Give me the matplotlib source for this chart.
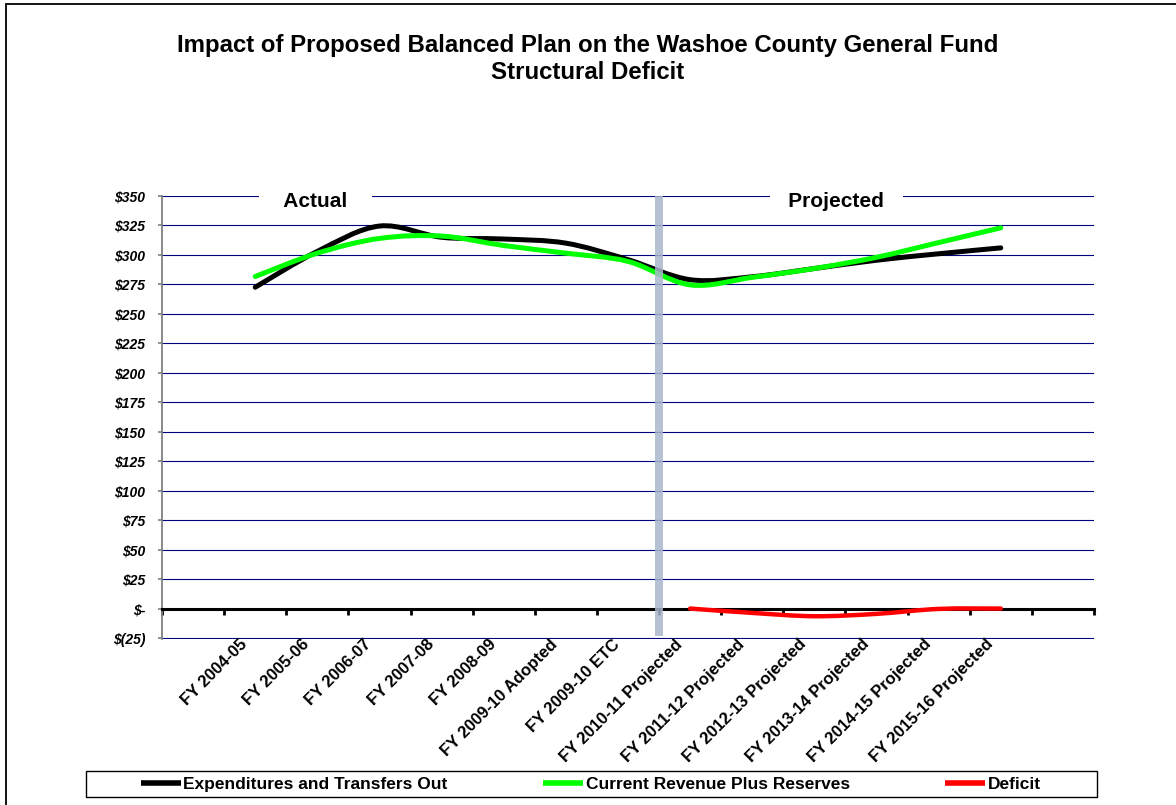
import numpy as np
import matplotlib
matplotlib.use('Agg')
import matplotlib.pyplot as plt
from matplotlib.path import Path
from matplotlib.patches import PathPatch, Rectangle
from matplotlib.lines import Line2D
from matplotlib.transforms import blended_transform_factory

plt.rcParams['font.family'] = ['Liberation Sans', 'DejaVu Sans']

# Chart data ($ millions).
categories = [
    'FY 2004-05', 'FY 2005-06', 'FY 2006-07', 'FY 2007-08', 'FY 2008-09',
    'FY 2009-10 Adopted', 'FY 2009-10 ETC', 'FY 2010-11 Projected',
    'FY 2011-12 Projected', 'FY 2012-13 Projected', 'FY 2013-14 Projected',
    'FY 2014-15 Projected', 'FY 2015-16 Projected',
]
expenditures = [272.6, 303.0, 324.5, 315.0, 313.5, 310.0, 296.0,
                279.0, 281.5, 288.5, 295.5, 301.0, 306.0]
revenue = [281.7, 301.5, 314.0, 316.0, 308.0, 301.5, 294.5,
           274.6, 281.0, 288.5, 298.0, 310.5, 323.0]
deficit_categories = categories[7:]
deficit = [0.0, -3.7, -6.5, -4.5, -0.3, 0.0]

y_ticks = list(range(-25, 351, 25))
first_projected = 'FY 2010-11 Projected'


def money(v):
    if v == 0:
        return '$-'
    if v < 0:
        return f'$({-v})'
    return f'${v}'


def smooth_path(x, y):
    # Excel style smoothed line: cubic Bezier segments through every point
    pts = np.column_stack([x, y]).astype(float)
    n = len(pts)
    verts = [pts[0]]
    codes = [Path.MOVETO]
    for i in range(n - 1):
        p0 = pts[i - 1] if i > 0 else pts[i]
        p1, p2 = pts[i], pts[i + 1]
        p3 = pts[i + 2] if i + 2 < n else pts[i + 1]
        verts += [p1 + (p2 - p0) / 6, p2 - (p3 - p1) / 6, p2]
        codes += [Path.CURVE4] * 3
    return Path(verts, codes)


# one empty slot on each side of the categories, like the original
pos = {c: i + 1 for i, c in enumerate(categories)}
x_all = [pos[c] for c in categories]
x_def = [pos[c] for c in deficit_categories]

fig = plt.figure(figsize=(11.76, 8.05), dpi=100)
ax = fig.add_axes([162 / 1176, 1 - 638.5 / 805, (1094 - 162) / 1176, (638.5 - 196) / 805])
ax.set_xlim(-0.5, len(categories) + 1.5)

# gridlines
ax.set_yticks(y_ticks)
ax.set_yticklabels([money(v) for v in y_ticks], fontsize=10, fontweight='bold', style='italic')
ax.yaxis.grid(True, color='#000080', linewidth=0.8, zorder=0)
ax.set_axisbelow(True)
ax.tick_params(axis='y', direction='out', length=3, width=1.2, color='#808080', pad=9)

for s in ['top', 'right']:
    ax.spines[s].set_visible(False)
ax.spines['left'].set_color('#808080')
ax.spines['left'].set_linewidth(1.3)
ax.spines['bottom'].set_position(('data', 0))
ax.spines['bottom'].set_linewidth(2.2)
ax.spines['bottom'].set_zorder(2.6)

bounds = np.arange(-0.5, len(categories) + 2, 1.0)
ax.set_xticks(bounds)
ax.set_xticklabels([])
ax.tick_params(axis='x', direction='out', length=4, width=2, color='black')

# category labels sit under the plot area
btrans = blended_transform_factory(ax.transData, ax.transAxes)
for c in categories:
    ax.text(pos[c] - 0.25, 0.004, c, transform=btrans, rotation=45, ha='right', va='top',
            rotation_mode='anchor', fontsize=12, fontweight='bold')

ax.add_patch(PathPatch(smooth_path(x_all, expenditures), fill=False, edgecolor='black',
                       lw=3.6, capstyle='round', zorder=3))
ax.add_patch(PathPatch(smooth_path(x_all, revenue), fill=False, edgecolor='#00FF00',
                       lw=3.6, capstyle='round', zorder=3.1))
ax.add_patch(PathPatch(smooth_path(x_def, deficit), fill=False, edgecolor='#FF0000',
                       lw=3.2, capstyle='round', zorder=3.2))

# divider between actual and projected years
div_x = pos[first_projected] - 0.5
ax.axvspan(div_x - 0.065, div_x + 0.065, ymin=0.005, ymax=1, color='#A9B6CC', alpha=0.85,
           lw=0, zorder=4)
ax.set_ylim(-25.4, 350)

ax.text(1.97, 345.5, '    Actual    ', ha='center', va='center', fontsize=15, fontweight='bold',
        bbox=dict(facecolor='white', edgecolor='none', pad=1), zorder=5)
ax.text(10.35, 345.5, '   Projected   ', ha='center', va='center', fontsize=15, fontweight='bold',
        bbox=dict(facecolor='white', edgecolor='none', pad=1), zorder=5)

fig.text(0.5, 1 - 34 / 805, 'Impact of Proposed Balanced Plan on the Washoe County General Fund\n'
         'Structural Deficit', ha='center', va='top', fontsize=17.3, fontweight='bold',
         linespacing=1.2)

# legend
handles = [Line2D([], [], color='black', lw=4, solid_capstyle='butt'),
           Line2D([], [], color='#00FF00', lw=4, solid_capstyle='butt'),
           Line2D([], [], color='#FF0000', lw=4, solid_capstyle='butt')]
names = ['Expenditures and Transfers Out', 'Current Revenue Plus Reserves', 'Deficit']
fig.legend(handles, names, loc='center', bbox_to_anchor=(591 / 1176, 1 - 784 / 805),
           ncol=3, frameon=False, handlelength=2.3, handletextpad=0.15, columnspacing=5.5,
           prop={'weight': 'bold', 'size': 12.5})
fig.patches.append(Rectangle((86 / 1176, 1 - 797 / 805), (1097 - 86) / 1176, 26 / 805,
                             transform=fig.transFigure, fill=False, edgecolor='black', lw=1))

# chart area border
fig.patches.append(Rectangle((6 / 1176, -0.05), 1.2, 1.05 - 4 / 805, transform=fig.transFigure,
                             fill=False, edgecolor='black', lw=1.3))

fig.savefig('out.png', dpi=100)
